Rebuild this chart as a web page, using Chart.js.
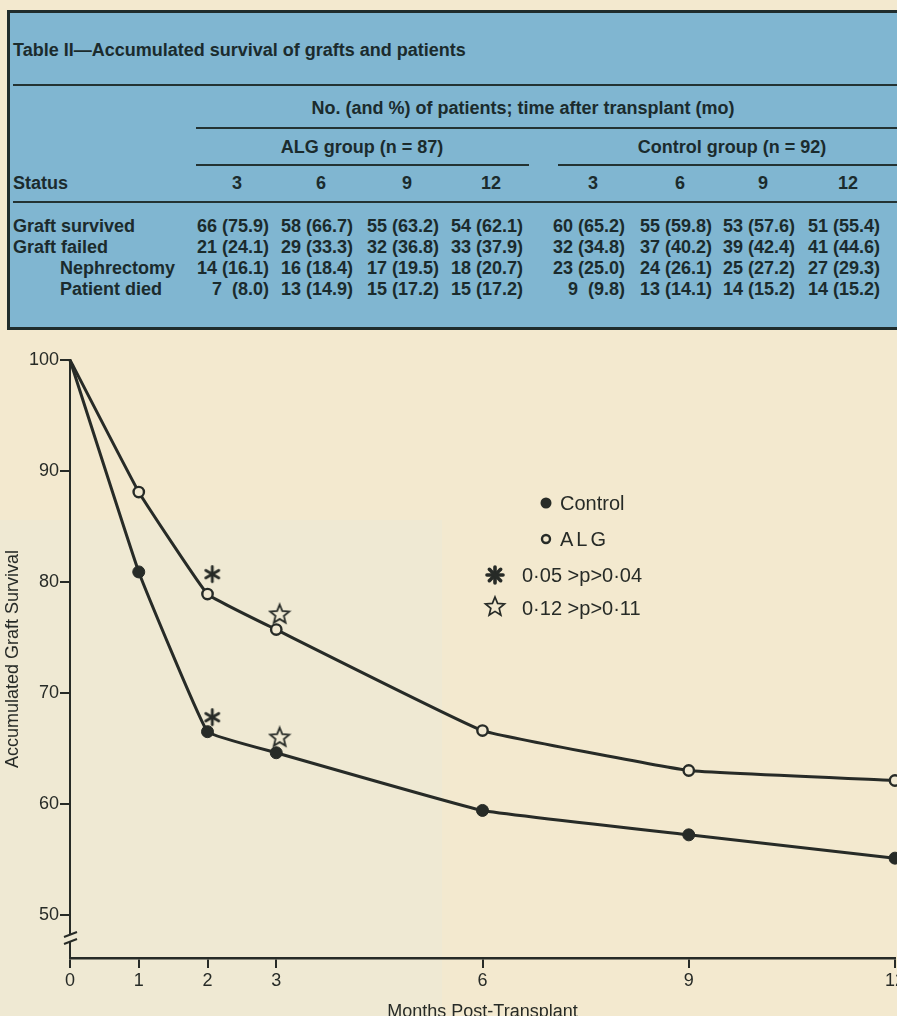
<!DOCTYPE html>
<html>
<head>
<meta charset="utf-8">
<script src="https://cdn.jsdelivr.net/npm/chart.js@4.4.1/dist/chart.umd.min.js"></script>
<style>
  html, body { margin: 0; padding: 0; width: 897px; height: 1016px; overflow: hidden; background: #f3e9cf; }
  #tableBox { position: absolute; left: 7px; top: 10px; width: 910px; height: 320px; box-sizing: border-box;
              background: #80b6d1; border: 3px solid #1f2c2c; border-right: none; }
  #paperBox { position: absolute; left: 0; top: 520px; width: 442px; height: 496px; background: #efe9d3; }
  .t { position: absolute; font: bold 18px "Liberation Sans", Arial, sans-serif; color: #1b2b2d;
       line-height: 20px; white-space: pre; }
  .rule { position: absolute; height: 2px; background: #233333; }
  #chartWrap { position: absolute; left: 0; top: 330px; }
</style>
</head>
<body>
<div id="paperBox"></div>
<div id="tableBox"></div>
<div id="chartWrap"><canvas id="survivalChart" width="920" height="693"></canvas></div>
<script>
// Table II data
var tableTitle = 'Table II\u2014Accumulated survival of grafts and patients';
var tableTimes = [3, 6, 9, 12];
var statusLabels = ['Graft survived', 'Graft failed', 'Nephrectomy', 'Patient died'];
var algCounts = [[66, 58, 55, 54], [21, 29, 32, 33], [14, 16, 17, 18], [7, 13, 15, 15]];
var algPct = [[75.9, 66.7, 63.2, 62.1], [24.1, 33.3, 36.8, 37.9], [16.1, 18.4, 19.5, 20.7], [8.0, 14.9, 17.2, 17.2]];
var controlCounts = [[60, 55, 53, 51], [32, 37, 39, 41], [23, 24, 25, 27], [9, 13, 14, 14]];
var controlPct = [[65.2, 59.8, 57.6, 55.4], [34.8, 40.2, 42.4, 44.6], [25.0, 26.1, 27.2, 29.3], [9.8, 14.1, 15.2, 15.2]];

// Chart data
var months = [0, 1, 2, 3, 6, 9, 12];
var controlSurvival = [100, 80.9, 66.5, 64.6, 59.4, 57.2, 55.1];
var algSurvival = [100, 88.1, 78.9, 75.7, 66.6, 63.0, 62.1];
var asteriskMonths = [2.07, 2.07];
var asteriskValues = [80.7, 67.8];
var starMonths = [3.05, 3.05];
var starValues = [77.1, 66.0];
var xTickValues = [0, 1, 2, 3, 6, 9, 12];
var yTickValues = [50, 60, 70, 80, 90, 100];
var legendLabels = ['Control', 'ALG', '0\u00b705 >p>0\u00b704', '0\u00b712 >p>0\u00b711'];

var ink = '#272b27';
var paper = '#f1e9d2';

// ---- table (HTML text) ----
function addText(str, x, y, align) {
  var d = document.createElement('div');
  d.className = 't';
  d.textContent = str;
  d.style.left = x + 'px';
  d.style.top = (y - 10) + 'px';
  if (align === 'center') d.style.transform = 'translateX(-50%)';
  if (align === 'right') d.style.transform = 'translateX(-100%)';
  document.body.appendChild(d);
}
function addRule(x1, x2, y) {
  var r = document.createElement('div');
  r.className = 'rule';
  r.style.left = x1 + 'px';
  r.style.width = (x2 - x1) + 'px';
  r.style.top = (y - 1) + 'px';
  document.body.appendChild(r);
}

addText(tableTitle, 13, 50, 'left');
addRule(13, 897, 85);
addText('No. (and %) of patients; time after transplant (mo)', 523, 108, 'center');
addRule(196, 897, 128);
addText('ALG group (n = 87)', 362, 147, 'center');
addText('Control group (n = 92)', 732, 147, 'center');
addRule(196, 529, 165);
addRule(558, 897, 165);
addText('Status', 13, 183, 'left');
addRule(13, 897, 202);

var cellRight = [269, 353, 439, 523, 625, 712, 795, 880];
var rowY = [226, 247, 268, 289];
var labelX = [13, 13, 60, 60];
for (var c = 0; c < 8; c++) {
  addText(String(tableTimes[c % 4]), cellRight[c] - 32, 183, 'center');
}
function cell(n, p) {
  return n + (n < 10 ? '  (' : ' (') + p.toFixed(1) + ')';
}
for (var r = 0; r < statusLabels.length; r++) {
  addText(statusLabels[r], labelX[r], rowY[r], 'left');
  for (var k = 0; k < 4; k++) {
    addText(cell(algCounts[r][k], algPct[r][k]), cellRight[k], rowY[r], 'right');
    addText(cell(controlCounts[r][k], controlPct[r][k]), cellRight[k + 4], rowY[r], 'right');
  }
}

// ---- marker images ----
function drawAsterisk(ctx, cx, cy, len, width, spokes) {
  ctx.save();
  ctx.strokeStyle = ink;
  ctx.lineWidth = width;
  ctx.lineCap = 'round';
  for (var i = 0; i < spokes; i++) {
    var a = Math.PI / 2 + i * Math.PI / spokes;
    ctx.beginPath();
    ctx.moveTo(cx - Math.cos(a) * len / 2, cy - Math.sin(a) * len / 2);
    ctx.lineTo(cx + Math.cos(a) * len / 2, cy + Math.sin(a) * len / 2);
    ctx.stroke();
  }
  ctx.restore();
}
function drawStar(ctx, cx, cy, ro, ri, width) {
  ctx.save();
  ctx.strokeStyle = ink;
  ctx.lineWidth = width;
  ctx.lineJoin = 'miter';
  ctx.beginPath();
  for (var i = 0; i < 10; i++) {
    var rad = i % 2 === 0 ? ro : ri;
    var a = -Math.PI / 2 + i * Math.PI / 5;
    var px = cx + Math.cos(a) * rad, py = cy + Math.sin(a) * rad;
    if (i === 0) ctx.moveTo(px, py); else ctx.lineTo(px, py);
  }
  ctx.closePath();
  ctx.stroke();
  ctx.restore();
}
var asteriskImg = document.createElement('canvas');
asteriskImg.width = 20; asteriskImg.height = 20;
drawAsterisk(asteriskImg.getContext('2d'), 10, 10, 15, 2.8, 3);
var starImg = document.createElement('canvas');
starImg.width = 24; starImg.height = 24;
drawStar(starImg.getContext('2d'), 12, 12.5, 10, 4.4, 1.8);

function toPoints(xs, ys) {
  return xs.map(function (x, i) { return { x: x, y: ys[i] }; });
}

// legend + axis break
var decorPlugin = {
  id: 'decor',
  afterDraw: function (chart) {
    var ctx = chart.ctx;
    var yScale = chart.scales.y;
    var x0 = chart.chartArea.left;
    ctx.save();
    // break on the y axis
    var yb = yScale.getPixelForValue(47.9);
    ctx.fillStyle = '#efe9d3';
    ctx.fillRect(x0 - 4, yb - 3, 8, 6);
    ctx.strokeStyle = ink;
    ctx.lineWidth = 2;
    ctx.beginPath();
    ctx.moveTo(x0 - 6, yb - 1); ctx.lineTo(x0 + 7, yb - 6);
    ctx.moveTo(x0 - 6, yb + 6); ctx.lineTo(x0 + 7, yb + 1);
    ctx.stroke();

    // legend
    ctx.fillStyle = ink;
    ctx.textBaseline = 'middle';
    ctx.font = '20px "Liberation Sans", Arial, sans-serif';
    ctx.beginPath(); ctx.arc(546, 173, 5.5, 0, Math.PI * 2); ctx.fill();
    ctx.fillText(legendLabels[0], 560, 174);
    ctx.beginPath(); ctx.lineWidth = 2.4; ctx.arc(546, 209, 4, 0, Math.PI * 2); ctx.stroke();
    ctx.letterSpacing = '3px';
    ctx.fillText(legendLabels[1], 560, 210);
    ctx.letterSpacing = '0px';
    drawAsterisk(ctx, 495, 245, 16, 3.6, 4);
    ctx.fillText(legendLabels[2], 522, 246);
    drawStar(ctx, 495, 277, 10, 4.4, 1.7);
    ctx.fillText(legendLabels[3], 522, 279);
    ctx.restore();
  }
};

var ctx = document.getElementById('survivalChart').getContext('2d');
var fontFamily = '"Liberation Sans", Arial, sans-serif';

var survivalChart = new Chart(ctx, {
  type: 'line',
  data: {
    datasets: [{
      label: 'Control',
      data: toPoints(months, controlSurvival),
      borderColor: ink,
      borderWidth: 3,
      backgroundColor: ink,
      pointBackgroundColor: ink,
      pointBorderColor: ink,
      pointRadius: [0, 6, 6, 6, 6, 6, 6],
      pointBorderWidth: 1,
      tension: 0.08,
      clip: false
    }, {
      label: 'ALG',
      data: toPoints(months, algSurvival),
      borderColor: ink,
      borderWidth: 3,
      pointBackgroundColor: paper,
      pointBorderColor: ink,
      pointRadius: [0, 5.2, 5.2, 5.2, 5.2, 5.2, 5.2],
      pointBorderWidth: 2.4,
      tension: 0.08,
      clip: false
    }, {
      type: 'scatter',
      label: '0.05 > p > 0.04',
      data: toPoints(asteriskMonths, asteriskValues),
      pointStyle: asteriskImg,
      showLine: false
    }, {
      type: 'scatter',
      label: '0.12 > p > 0.11',
      data: toPoints(starMonths, starValues),
      pointStyle: starImg,
      showLine: false
    }]
  },
  options: {
    responsive: false,
    animation: false,
    layout: { padding: { top: 30, right: 25, left: 0, bottom: 0 } },
    plugins: { legend: { display: false }, tooltip: { enabled: false } },
    scales: {
      x: {
        type: 'linear',
        min: 0,
        max: 12,
        afterBuildTicks: function (s) { s.ticks = xTickValues.map(function (v) { return { value: v }; }); },
        afterFit: function (s) { s.height = 65; },
        grid: { drawOnChartArea: false, drawTicks: true, tickLength: 10, color: ink, lineWidth: 2 },
        border: { display: true, color: ink, width: 2.4 },
        ticks: { color: ink, font: { family: fontFamily, size: 18 }, padding: 2, maxRotation: 0 },
        title: { display: true, text: 'Months Post-Transplant', color: ink,
                 font: { family: fontFamily, size: 18 }, padding: { top: 0, bottom: 0 } }
      },
      y: {
        min: 46.1,
        max: 100,
        afterBuildTicks: function (s) { s.ticks = yTickValues.map(function (v) { return { value: v }; }); },
        afterFit: function (s) { s.width = 70; },
        grid: { drawOnChartArea: false, drawTicks: true, tickLength: 10, color: ink, lineWidth: 2 },
        border: { display: true, color: ink, width: 2 },
        ticks: { color: ink, font: { family: fontFamily, size: 18 }, padding: 1 },
        title: { display: true, text: 'Accumulated Graft Survival', color: ink,
                 font: { family: fontFamily, size: 18 }, padding: { top: 2, bottom: 0 } }
      }
    }
  },
  plugins: [decorPlugin]
});
</script>
</body>
</html>
